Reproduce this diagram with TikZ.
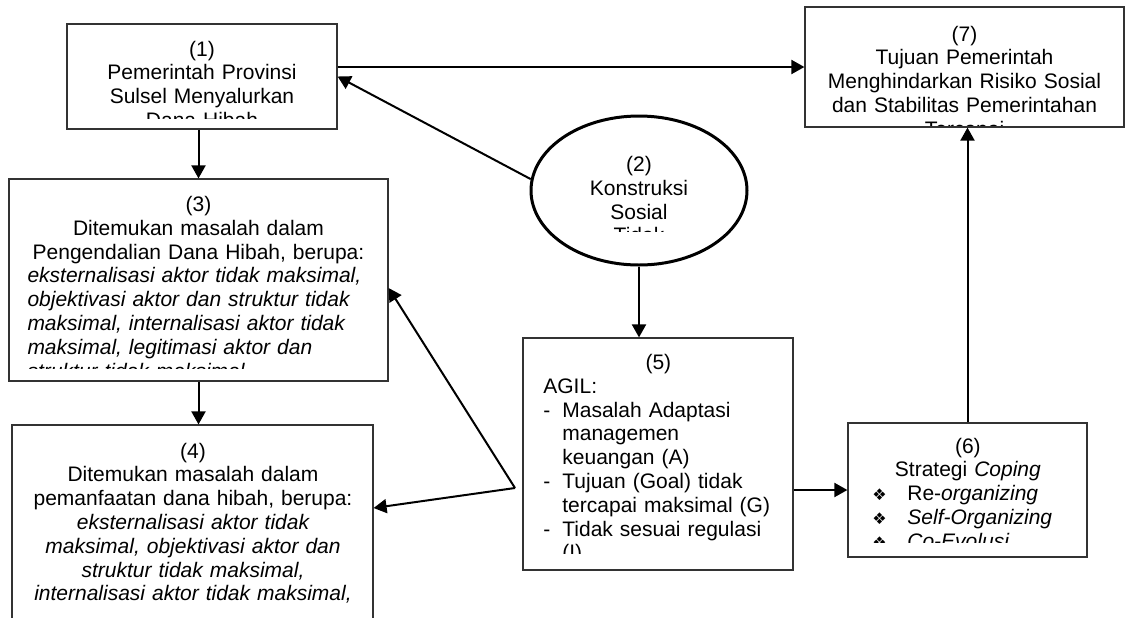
\documentclass[tikz,border=0pt]{standalone}
\usepackage{fontspec}
\setmainfont{Liberation Sans}
\newfontfamily\dejavu{DejaVu Sans}
\usetikzlibrary{arrows.meta,shapes.geometric}

\begin{document}
\begin{tikzpicture}[x=0.5pt,y=-0.5pt,
  box/.style={draw=black!80, line width=0.6pt},
  txt/.style={font=\fontsize{10.5}{11.9}\selectfont, anchor=base},
  arr/.style={-{Triangle[length=6.5pt,width=7pt]}, line width=1pt}]
  \tikzstyle{every node}+=[inner sep=0pt]
  \useasboundingbox (0,0) rectangle (1126,617);
  \node [box, minimum width=135pt, minimum height=52.5pt] (b1) at (202,76.5) {};
  \node [box, minimum width=159.5pt, minimum height=60pt] (b7) at (964.5,67) {};
  \node [box, minimum width=189.5pt, minimum height=101pt] (b3) at (198.5,280) {};
  \node [box, minimum width=180.5pt, minimum height=98.5pt] (b4) at (192.5,523.5) {};
  \node [box, minimum width=135pt, minimum height=116pt] (b5) at (658,454) {};
  \node [box, minimum width=119.5pt, minimum height=67pt] (b6) at (967.5,490) {};
  \node [draw, ellipse, line width=1.5pt, minimum width=108pt, minimum height=74.5pt] (e2) at (639,190.5) {};

  \begin{scope}
    \clip (67,24) rectangle (337,118);
    \node [txt, text width=125pt, align=center] (t1) at (202,56) {(1)\\Pemerintah Provinsi\\Sulsel Menyalurkan\\Dana Hibah};
  \end{scope}
  \begin{scope}
    \clip (805,7) rectangle (1124,125);
    \node [txt, text width=150pt, align=center] (t7) at (964.5,41) {(7)\\Tujuan Pemerintah\\Menghindarkan Risiko Sosial\\dan Stabilitas Pemerintahan\\Tercapai};
  \end{scope}
  \begin{scope}
    \clip (531,116) rectangle (747,231);
    \node [txt, text width=60pt, align=center] (t2) at (639,171.5) {(2)\\Konstruksi\\Sosial\\Tidak};
  \end{scope}
  \begin{scope}
    \clip (9,179) rectangle (388,368);
    \node [txt, text width=171pt] (t3) at (198.5,211.5) {{\centering (3)\\Ditemukan masalah dalam\\Pengendalian Dana Hibah, berupa:\par}\raggedright\itshape eksternalisasi aktor tidak maksimal,\\objektivasi aktor dan struktur tidak\\maksimal, internalisasi aktor tidak\\maksimal, legitimasi aktor dan\\struktur tidak maksimal.};
  \end{scope}
  \begin{scope}
    \clip (12,425) rectangle (373,606);
    \node [txt, text width=178pt, align=center] (t4) at (193,458) {(4)\\Ditemukan masalah dalam\\pemanfaatan dana hibah, berupa:\\\itshape eksternalisasi aktor tidak\\maksimal, objektivasi aktor dan\\struktur tidak maksimal,\\internalisasi aktor tidak maksimal,\\legitimasi aktor dan struktur};
  \end{scope}
  \begin{scope}
    \clip (523,338) rectangle (793,553);
    \node [txt, anchor=base west, text width=115pt] (t5) at (543,369.5) {{\centering (5)\par}\raggedright AGIL:\\
      \makebox[9.5pt][l]{-}Masalah Adaptasi\\
      \hspace*{9.5pt}managemen\\
      \hspace*{9.5pt}keuangan (A)\\
      \makebox[9.5pt][l]{-}Tujuan (Goal) tidak\\
      \hspace*{9.5pt}tercapai maksimal (G)\\
      \makebox[9.5pt][l]{-}Tidak sesuai regulasi\\
      \hspace*{9.5pt}(I)};
  \end{scope}
  \begin{scope}
    \clip (848,423) rectangle (1087,542);
    \node [txt, anchor=base west, text width=95.5pt] (t6) at (872,453) {{\centering (6)\\Strategi \textit{Coping}\par}\raggedright
      \makebox[17.5pt][l]{\dejavu\fontsize{8}{8}\selectfont ❖}Re-\textit{organizing}\\
      \makebox[17.5pt][l]{\dejavu\fontsize{8}{8}\selectfont ❖}\textit{Self-Organizing}\\
      \makebox[17.5pt][l]{\dejavu\fontsize{8}{8}\selectfont ❖}\textit{Co-Evolusi}};
  \end{scope}

  \coordinate (fork) at (515,488);
  \draw [arr] (b1.east |- b7.west) -- (b7.west);
  \draw [arr] (e2.174) -- (b1.east);
  \draw [arr] (b1.south -| b3.north) -- (b3.north);
  \draw [arr] (e2.south) -- (e2.south |- b5.north);
  \draw [arr] (b3.south) -- (b3.south |- b4.north);
  \draw [arr] (fork) -- ([yshift=-4pt]b3.east);
  \draw [arr] (fork) -- ([yshift=7.75pt]b4.east);
  \draw [arr] (b5.east |- b6.west) -- (b6.west);
  \draw [arr] (b6.north) -- (b6.north |- b7.south);
\end{tikzpicture}
\end{document}
